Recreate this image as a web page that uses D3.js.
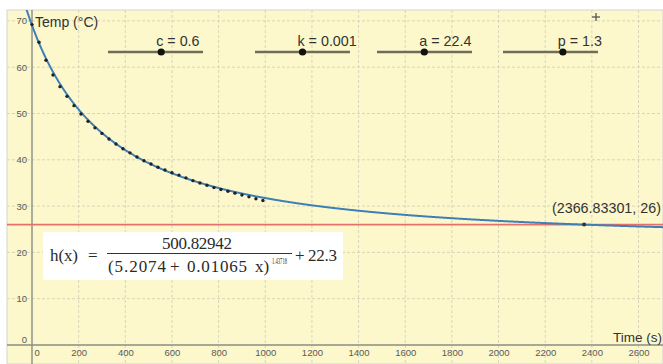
<!DOCTYPE html>
<html>
<head>
<meta charset="utf-8">
<script src="https://cdn.jsdelivr.net/npm/d3@7"></script>
<style>
  html, body { margin: 0; padding: 0; background: #ffffff; }
  svg { display: block; }
</style>
</head>
<body>
<svg id="chart" width="663" height="364"></svg>
<script>
// Cooling measurements: elapsed time (s) and temperature (°C)
const timeSeconds = [0, 30, 60, 90, 120, 150, 180, 210, 240, 270, 300, 330, 360, 390, 420, 450, 480,
  510, 540, 570, 600, 630, 660, 690, 720, 750, 780, 810, 840, 870, 900, 930, 960, 990];
const tempCelsius = [69.2, 65.4, 61.5, 58.3, 55.8, 53.7, 51.7, 49.9, 48.3, 46.9, 45.7, 44.5, 43.4,
  42.4, 41.5, 40.6, 39.8, 39.1, 38.4, 37.8, 37.2, 36.7, 36.1, 35.5, 35.0, 34.5, 34.0, 33.6, 33.2,
  32.8, 32.4, 32.0, 31.6, 31.2];

// Fitted model h(x) = numerator / (b0 + b1·x)^exponent + offset
const fitNumerator = 500.82942;
const fitBase = [5.2074, 0.01065];
const fitExponent = 1.43718;
const fitOffset = 22.3;

// Threshold line and where h crosses it
const thresholdTemp = 26;
const crossingPoint = [2366.83301, 26];

// Axis ticks
const xTicks = [0, 200, 400, 600, 800, 1000, 1200, 1400, 1600, 1800, 2000, 2200, 2400, 2600];
const yTicks = [0, 10, 20, 30, 40, 50, 60, 70];

// Sliders
const sliderNames = ["c", "k", "a", "p"];
const sliderValues = [0.6, 0.001, 22.4, 1.3];
const sliderMin = [-5, -5, 0, -5];
const sliderMax = [5, 5, 45, 5];

const W = 663, H = 364;
const frameLeft = 7, frameTop = 10;

const svg = d3.select("#chart");

const x = d3.scaleLinear().domain([0, 2600]).range([32, 638.5]);
const y = d3.scaleLinear().domain([0, 70]).range([345, 20.9]);

const h = t => fitNumerator / Math.pow(fitBase[0] + fitBase[1] * t, fitExponent) + fitOffset;

// Graphics view background
svg.append("rect")
  .attr("x", frameLeft).attr("y", frameTop)
  .attr("width", W - frameLeft).attr("height", H - frameTop)
  .attr("fill", "#fcf8cc")
  .attr("stroke", "#d4d4d0").attr("stroke-width", 1);

svg.append("defs").append("clipPath").attr("id", "plotClip")
  .append("rect")
  .attr("x", frameLeft).attr("y", frameTop)
  .attr("width", W - frameLeft).attr("height", H - frameTop);

// Grid
const grid = svg.append("g").attr("stroke", "#d8d5bb").attr("stroke-width", 1)
  .attr("stroke-dasharray", "3,2");
grid.selectAll("line.vx").data(xTicks.filter(d => d !== 0)).join("line")
  .attr("class", "vx")
  .attr("x1", d => x(d)).attr("x2", d => x(d))
  .attr("y1", frameTop).attr("y2", H);
grid.selectAll("line.hy").data(yTicks.filter(d => d !== 0)).join("line")
  .attr("class", "hy")
  .attr("x1", frameLeft).attr("x2", W)
  .attr("y1", d => y(d)).attr("y2", d => y(d));

// Axes
const axisColor = "#8c8c84";
svg.append("line")
  .attr("x1", frameLeft).attr("x2", W)
  .attr("y1", y(0)).attr("y2", y(0))
  .attr("stroke", axisColor).attr("stroke-width", 1.4);
svg.append("line")
  .attr("x1", x(0)).attr("x2", x(0))
  .attr("y1", frameTop).attr("y2", H)
  .attr("stroke", axisColor).attr("stroke-width", 1.4);

const xAxis = svg.append("g")
  .attr("transform", `translate(0,${y(0)})`)
  .call(d3.axisBottom(x).tickValues(xTicks).tickSize(0).tickPadding(4).tickFormat(d3.format("d")));
xAxis.select(".domain").remove();
xAxis.selectAll("text")
  .attr("font-family", "'Liberation Sans', Arial, sans-serif")
  .attr("font-size", 9.5).attr("fill", "#5a5a5a");
xAxis.selectAll(".tick").filter(d => d === 0).select("text")
  .attr("text-anchor", "start").attr("x", 2);

const yAxis = svg.append("g")
  .attr("transform", `translate(${x(0)},0)`)
  .call(d3.axisLeft(y).tickValues(yTicks).tickSize(0).tickPadding(5).tickFormat(d3.format("d")));
yAxis.select(".domain").remove();
yAxis.selectAll("text")
  .attr("font-family", "'Liberation Sans', Arial, sans-serif")
  .attr("font-size", 9.5).attr("fill", "#5a5a5a");
yAxis.selectAll(".tick").filter(d => d === 0).select("text")
  .attr("dy", "-0.3em");

// Axis titles
svg.append("text")
  .attr("x", 35).attr("y", 27)
  .attr("font-family", "'Liberation Sans', Arial, sans-serif")
  .attr("font-size", 14).attr("fill", "#333")
  .text("Temp (°C)");
svg.append("text")
  .attr("x", 613).attr("y", 342)
  .attr("font-family", "'Liberation Sans', Arial, sans-serif")
  .attr("font-size", 13.5).attr("fill", "#333")
  .text("Time (s)");

const plot = svg.append("g").attr("clip-path", "url(#plotClip)");

// Threshold line
plot.append("line")
  .attr("x1", frameLeft).attr("x2", W)
  .attr("y1", y(thresholdTemp)).attr("y2", y(thresholdTemp))
  .attr("stroke", "#e8706b").attr("stroke-width", 1.7);

// Model curve
const tStart = x.invert(frameLeft) + 70, tEnd = x.invert(W) + 10;
const curveTimes = d3.range(tStart, tEnd, 2);
plot.append("path")
  .datum(curveTimes)
  .attr("fill", "none")
  .attr("stroke", "#3f7fb8").attr("stroke-width", 2)
  .attr("d", d3.line().x(t => x(t)).y(t => y(h(t))));

// Measured points
plot.selectAll("circle.pt").data(timeSeconds).join("circle")
  .attr("class", "pt")
  .attr("cx", d => x(d))
  .attr("cy", (d, i) => y(tempCelsius[i]))
  .attr("r", 1.7)
  .attr("fill", "#222");

// Crossing point
plot.append("circle")
  .attr("cx", x(crossingPoint[0])).attr("cy", y(crossingPoint[1]))
  .attr("r", 2).attr("fill", "#333");
svg.append("text")
  .attr("x", 552).attr("y", 212.5)
  .attr("font-family", "'Liberation Sans', Arial, sans-serif")
  .attr("font-size", 14.3).attr("fill", "#333")
  .text(`(${crossingPoint[0]}, ${crossingPoint[1]})`);

// Small cross marker near the top edge
svg.append("g").attr("stroke", "#555").attr("stroke-width", 1.3)
  .call(g => {
    g.append("line").attr("x1", 592).attr("x2", 600).attr("y1", 17).attr("y2", 17);
    g.append("line").attr("x1", 596).attr("x2", 596).attr("y1", 13).attr("y2", 21);
  });

// Sliders
const sliderStart = [108, 255, 377, 503];
const sliderLength = 95;
const sliderY = 52;
sliderNames.forEach((name, i) => {
  const s = d3.scaleLinear().domain([sliderMin[i], sliderMax[i]])
    .range([sliderStart[i], sliderStart[i] + sliderLength]);
  const g = svg.append("g");
  g.append("line")
    .attr("x1", s.range()[0]).attr("x2", s.range()[1])
    .attr("y1", sliderY).attr("y2", sliderY)
    .attr("stroke", "#6f6d58").attr("stroke-width", 2.4);
  g.append("circle")
    .attr("cx", s(sliderValues[i])).attr("cy", sliderY)
    .attr("r", 3.6).attr("fill", "#111");
  g.append("text")
    .attr("x", s(sliderValues[i]) - 5).attr("y", 45.5)
    .attr("font-family", "'Liberation Sans', Arial, sans-serif")
    .attr("font-size", 14.3).attr("fill", "#333")
    .text(`${name} = ${sliderValues[i]}`);
});

// Formula box
const fbox = svg.append("g");
fbox.append("rect")
  .attr("x", 43).attr("y", 232).attr("width", 300).attr("height", 48)
  .attr("fill", "#ffffff");
const mathFont = "'Liberation Serif', 'Times New Roman', serif";
const piece = (txt, px, py, size, len) => {
  const t = fbox.append("text")
    .attr("x", px).attr("y", py)
    .attr("font-family", mathFont)
    .attr("font-size", size).attr("fill", "#2a2a2a")
    .text(txt);
  if (len) t.attr("textLength", len).attr("lengthAdjust", "spacing");
  return t;
};
piece("h(x)", 50, 261, 17, 28);
piece("=", 88, 261, 17);
piece(String(fitNumerator), 162, 248.5, 17, 70);
fbox.append("line")
  .attr("x1", 107).attr("x2", 292).attr("y1", 253.5).attr("y2", 253.5)
  .attr("stroke", "#333").attr("stroke-width", 1);
piece(`(${fitBase[0]}`, 108, 272, 17, 58);
piece("+", 170, 272, 17);
piece(String(fitBase[1]), 187, 272, 17, 60);
piece("x)", 255, 272, 17);
// exponent, narrowed horizontally
fbox.append("text")
  .attr("transform", "translate(272,263.5) scale(0.62,1)")
  .attr("font-family", mathFont)
  .attr("font-size", 7.5).attr("fill", "#2a2a2a")
  .text(String(fitExponent));
piece("+", 295, 261, 17);
piece(String(fitOffset), 308, 261, 17, 29);
</script>
</body>
</html>
